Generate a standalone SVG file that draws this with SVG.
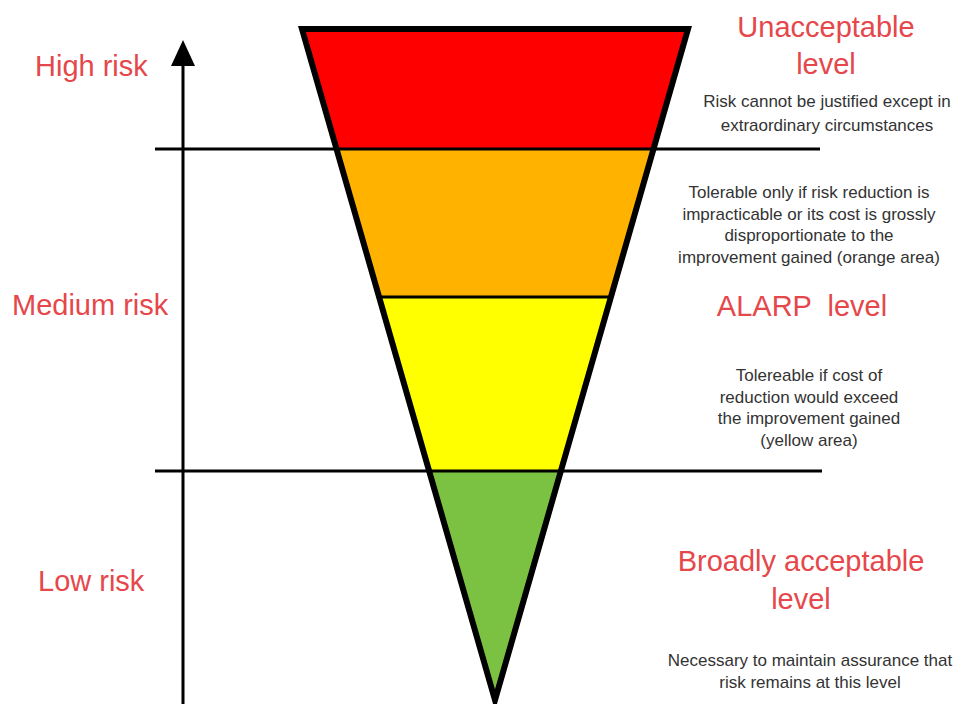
<svg xmlns="http://www.w3.org/2000/svg" width="960" height="704" viewBox="0 0 960 704">
<style>
.big{font-family:"Liberation Sans",Arial,sans-serif;font-size:29px;fill:#e5474b;text-anchor:middle}
.lbl{font-family:"Liberation Sans",Arial,sans-serif;font-size:29px;fill:#e5474b}
.small{font-family:"Liberation Sans",Arial,sans-serif;font-size:17px;fill:#333;text-anchor:middle}
.rule{stroke:#000;stroke-width:3;fill:none}
</style>
<rect width="960" height="704" fill="#fff"/>
<g id="bands">
<polygon id="red-band" points="302,29 688,29 653.5,149 336.5,149" fill="#ff0000"/>
<polygon id="orange-band" points="336.5,149 653.5,149 610.9,297 379.1,297" fill="#ffb300"/>
<polygon id="yellow-band" points="379.1,297 610.9,297 560.9,471 429.1,471" fill="#ffff00"/>
<polygon id="green-band" points="429.1,471 560.9,471 495,700" fill="#7cc242"/>
</g>
<g id="connectors">
<line class="rule" x1="155" y1="149" x2="820" y2="149"/>
<line class="rule" x1="379" y1="297" x2="611" y2="297"/>
<line class="rule" x1="155" y1="471" x2="822" y2="471"/>
<line class="rule" x1="183" y1="704" x2="183" y2="62"/>
<polygon points="183,40 171,66 195,66" fill="#000"/>
<polygon points="302,29 688,29 495,700" fill="none" stroke="#000" stroke-width="6" stroke-linejoin="miter" stroke-miterlimit="20"/>
</g>
<g id="axis-labels">
<text class="lbl" x="35" y="76">High risk</text>
<text class="lbl" x="12" y="315">Medium risk</text>
<text class="lbl" x="38" y="591">Low risk</text>
</g>
<g id="unacceptable">
<text class="big" x="826" y="37">Unacceptable</text>
<text class="big" x="826" y="74">level</text>
<text class="small" x="827" y="107">Risk cannot be justified except in</text>
<text class="small" x="827" y="131">extraordinary circumstances</text>
</g>
<g id="orange-note">
<text class="small" x="809" y="198">Tolerable only if risk reduction is</text>
<text class="small" x="809" y="220">impracticable or its cost is grossly</text>
<text class="small" x="809" y="241">disproportionate to the</text>
<text class="small" x="809" y="263">improvement gained (orange area)</text>
</g>
<g id="alarp">
<text class="big" x="802" y="316" xml:space="preserve">ALARP  level</text>
<text class="small" x="809" y="381">Tolereable if cost of</text>
<text class="small" x="809" y="403">reduction would exceed</text>
<text class="small" x="809" y="424">the improvement gained</text>
<text class="small" x="809" y="446">(yellow area)</text>
</g>
<g id="broadly">
<text class="big" x="801" y="571">Broadly acceptable</text>
<text class="big" x="801" y="609">level</text>
<text class="small" x="810" y="666">Necessary to maintain assurance that</text>
<text class="small" x="810" y="688">risk remains at this level</text>
</g>
</svg>
